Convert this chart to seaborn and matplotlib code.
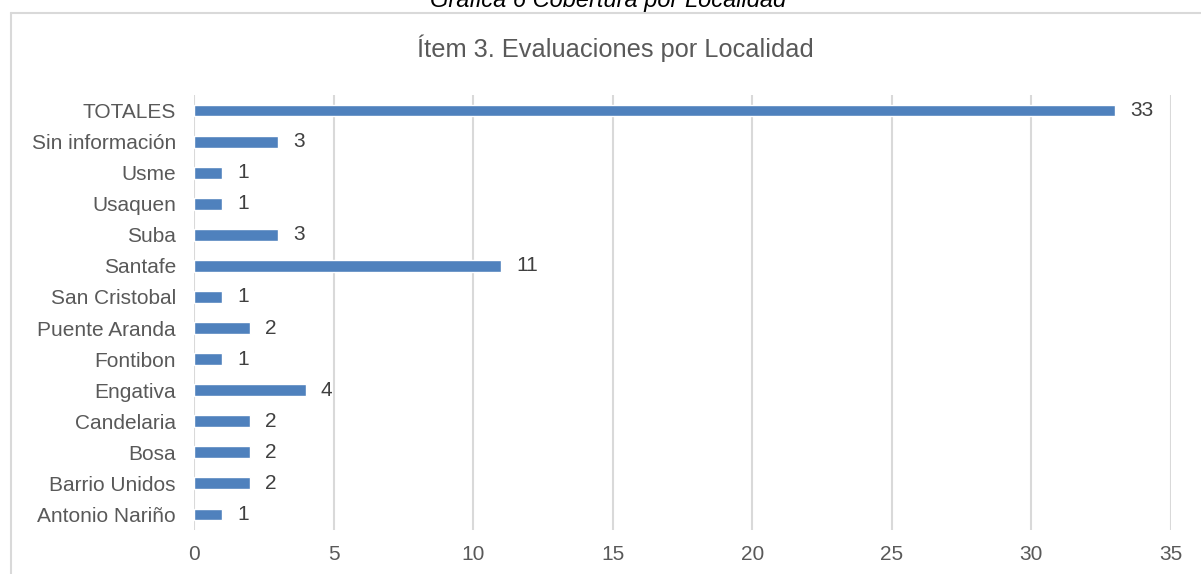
import matplotlib
matplotlib.use("Agg")
import matplotlib.pyplot as plt
import seaborn as sns
from matplotlib.lines import Line2D

# data, top to bottom as in the chart
localidades = ["TOTALES", "Sin información", "Usme", "Usaquen", "Suba", "Santafe",
               "San Cristobal", "Puente Aranda", "Fontibon", "Engativa", "Candelaria",
               "Bosa", "Barrio Unidos", "Antonio Nariño"]
evaluaciones = [33, 3, 1, 1, 3, 11, 1, 2, 1, 4, 2, 2, 2, 1]
x_ticks = [0, 5, 10, 15, 20, 25, 30, 35]

W, H = 1201, 574
BAR_COLOR = "#4F81BD"
GRID = "#d9d9d9"

sns.set_theme(style="white")
plt.rcParams["font.family"] = ["Liberation Sans", "DejaVu Sans"]

fig = plt.figure(figsize=(W / 100, H / 100), dpi=100)
ax = fig.add_axes([194 / W, 1 - 530 / H, (1171 - 194) / W, (530 - 95) / H])

sns.barplot(x=evaluaciones, y=localidades, orient="h", color=BAR_COLOR,
            saturation=1, width=0.38, ax=ax)

ax.bar_label(ax.containers[0], padding=11, fontsize=15, color="#404040")

ax.set_xlim(0, 35)
ax.set_ylim(len(localidades) - 0.5, -0.5)
ax.set_xticks(x_ticks)
ax.xaxis.grid(True, color=GRID, linewidth=1.5)
ax.yaxis.grid(False)
ax.set_axisbelow(True)
for s in ax.spines.values():
    s.set_visible(False)
ax.tick_params(axis="y", length=0, pad=13, labelsize=15, labelcolor="#595959")
ax.tick_params(axis="x", length=0, pad=11, labelsize=15, labelcolor="#595959")
ax.set_xlabel("")
ax.set_ylabel("")

# chart title and caption above the chart frame
fig.text(615 / W, 1 - 48 / H, "Ítem 3. Evaluaciones por Localidad", ha="center",
         va="center", fontsize=18.3, color="#595959")
fig.text(608 / W, 1 - 7 / H, "Gráfica 6 Cobertura por Localidad", ha="center",
         va="baseline", fontsize=17, style="italic", color="black")

# chart frame (only top and left edges fall inside the picture)
fig.add_artist(Line2D([11 / W, 1.0], [1 - 13 / H, 1 - 13 / H], color=GRID, lw=1.5))
fig.add_artist(Line2D([11 / W, 11 / W], [0.0, 1 - 13 / H], color=GRID, lw=1.5))

fig.savefig("out.png", dpi=100)
